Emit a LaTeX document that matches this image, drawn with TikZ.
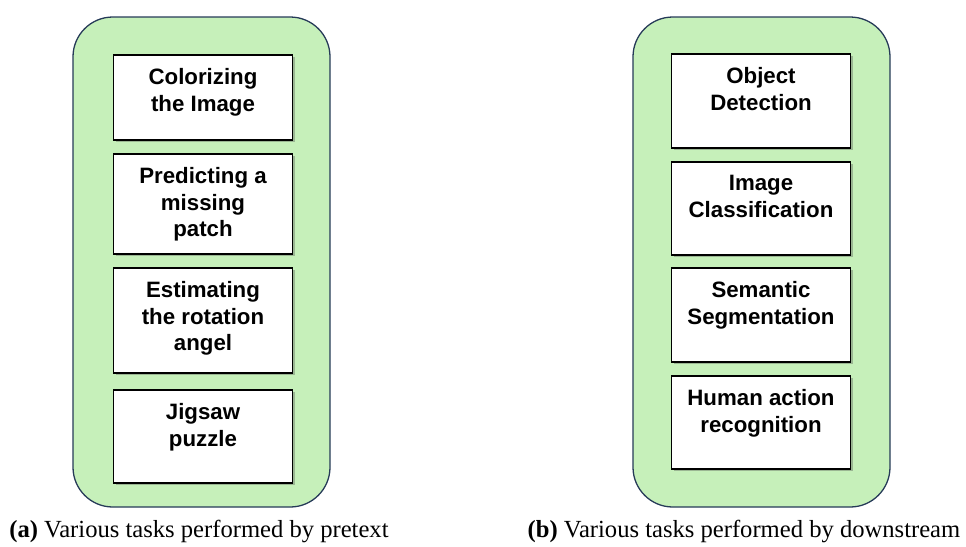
\documentclass[tikz,border=0pt]{standalone}
\usepackage{fontspec}
\setmainfont{Liberation Serif}
\newfontfamily\boxfont{Liberation Sans}
\usetikzlibrary{shadows}
\definecolor{panelgreen}{RGB}{198,240,186}
\definecolor{paneledge}{RGB}{38,58,88}
\tikzset{
	panel/.style={draw=paneledge, line width=1.1pt, fill=panelgreen, rounded corners=34pt},
	taskbox/.style={draw=black, line width=1.3pt, fill=white, minimum width=179*0.03cm,
		drop shadow={shadow xshift=2pt, shadow yshift=-2pt, opacity=0.35, fill=black!70}},
	tasktext/.style={anchor=north, inner sep=0pt, align=center,
		font=\boxfont\bfseries\fontsize{19}{23}\selectfont},
	caption/.style={inner sep=0pt, font=\fontsize{21}{25}\selectfont}
}
\begin{document}
\begin{tikzpicture}[x=0.03cm, y=-0.03cm]
	\useasboundingbox (0,0) rectangle (966,546);
	% left panel: pretext tasks
	\draw[panel] (73,17) rectangle (330,507);
	\node[taskbox, minimum height=85*0.03cm] (color) at (203,97.5) {};
	\node[tasktext] (colortxt) at ([yshift=-11.5pt]color.north) {Colorizing\\the Image};
	\node[taskbox, minimum height=100*0.03cm] (patch) at (203,204) {};
	\node[tasktext] (patchtxt) at ([yshift=-11.5pt]patch.north) {Predicting a\\missing\\patch};
	\node[taskbox, minimum height=105*0.03cm] (rotate) at (203,320.5) {};
	\node[tasktext] (rotatetxt) at ([yshift=-11.5pt]rotate.north) {Estimating\\the rotation\\angel};
	\node[taskbox, minimum height=93*0.03cm] (jigsaw) at (203,436.5) {};
	\node[tasktext] (jigsawtxt) at ([yshift=-11.5pt]jigsaw.north) {Jigsaw\\puzzle};
	% right panel: downstream tasks
	\draw[panel] (633,17) rectangle (890,507);
	\node[taskbox, minimum height=94*0.03cm] (detect) at (761,101) {};
	\node[tasktext] (detecttxt) at ([yshift=-11.5pt]detect.north) {Object\\Detection};
	\node[taskbox, minimum height=93*0.03cm] (classify) at (761,208.5) {};
	\node[tasktext] (classifytxt) at ([yshift=-11.5pt]classify.north) {Image\\Classification};
	\node[taskbox, minimum height=94*0.03cm] (segment) at (761,315) {};
	\node[tasktext] (segmenttxt) at ([yshift=-11.5pt]segment.north) {Semantic\\Segmentation};
	\node[taskbox, minimum height=93*0.03cm] (action) at (761,422.5) {};
	\node[tasktext] (actiontxt) at ([yshift=-11.5pt]action.north) {Human action\\recognition};
	% captions
	\node[caption] (capa) at (199,531) {\textbf{(a)} Various tasks performed by pretext};
	\node[caption] (capb) at (744,531) {\textbf{(b)} Various tasks performed by downstream};
\end{tikzpicture}
\end{document}
